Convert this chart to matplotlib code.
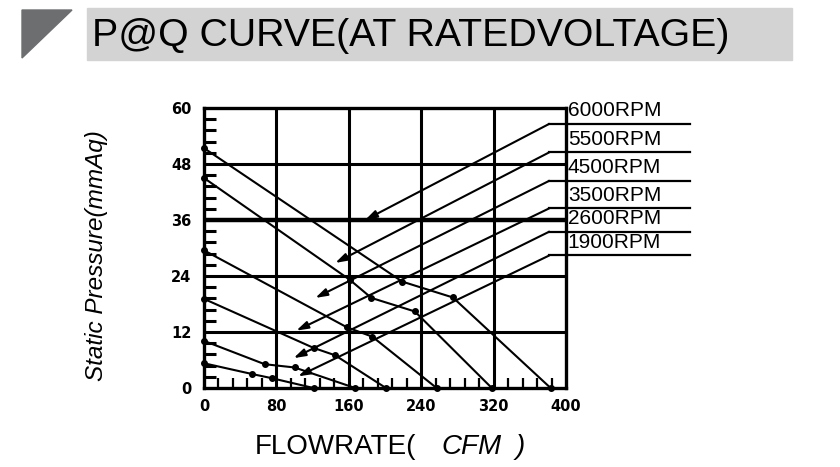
import matplotlib
matplotlib.use("Agg")
import matplotlib.pyplot as plt
from matplotlib.patches import Polygon, Rectangle
from matplotlib.ticker import MultipleLocator

W, H = 840, 467

# P@Q curves: flow (CFM) vs static pressure (mmAq)
rpm_labels = ["6000RPM", "5500RPM", "4500RPM", "3500RPM", "2600RPM", "1900RPM"]

flow_6000 = [0, 219, 275, 383]
pres_6000 = [51.4, 22.8, 19.4, 0]
flow_5500 = [0, 161, 185, 233, 318]
pres_5500 = [45.0, 23.2, 19.3, 16.4, 0]
flow_4500 = [0, 158, 186, 257]
pres_4500 = [29.5, 13.0, 11.0, 0]
flow_3500 = [0, 121, 145, 201]
pres_3500 = [19.1, 8.6, 7.0, 0]
flow_2600 = [0, 67, 100, 167]
pres_2600 = [10.1, 5.1, 4.4, 0]
flow_1900 = [0, 53, 75, 121]
pres_1900 = [5.3, 3.0, 2.1, 0]

# where each label's leader arrow points, and the height of its elbow
arrow_flow = [178, 145, 123, 102, 99, 104]
arrow_pres = [36.0, 26.8, 19.3, 12.3, 6.4, 2.5]
leader_pres = [56.6, 50.5, 44.4, 38.5, 33.5, 28.4]

x_ticks = [0, 80, 160, 240, 320, 400]
y_ticks = [0, 12, 24, 36, 48, 60]


def px(x, y):
    # pixel position (from top-left) -> figure fraction
    return x / W, 1 - y / H


fig = plt.figure(figsize=(W / 100, H / 100), dpi=100)

# title banner
fig.patches.append(Rectangle(px(87, 60), (792 - 87) / W, 52 / H,
                             transform=fig.transFigure, color="#d3d3d3", zorder=0))
fig.patches.append(Polygon([px(22, 10), px(72, 10), px(22, 58)], closed=True,
                           transform=fig.transFigure, color="#6d6e70", zorder=0))
fig.text(*px(92, 36), "P@Q CURVE(AT RATEDVOLTAGE)", ha="left", va="center",
         fontsize=28.3, family="Liberation Sans")

ax = fig.add_axes([204 / W, 1 - 388 / H, (566 - 204) / W, (388 - 108) / H])
ax.set_xlim(0, 400)
ax.set_ylim(0, 60)

for s in ax.spines.values():
    s.set_linewidth(2.4)

for y in y_ticks[1:-1]:
    ax.axhline(y, color="black", lw=3.2 if y == 36 else 2.2, zorder=1)
for x in x_ticks[1:-1]:
    ax.axvline(x, color="black", lw=2.2, zorder=1)

curves = [
    (flow_6000, pres_6000),
    (flow_5500, pres_5500),
    (flow_4500, pres_4500),
    (flow_3500, pres_3500),
    (flow_2600, pres_2600),
    (flow_1900, pres_1900),
]
for flow, pres in curves:
    ax.plot(flow, pres, "-", color="black", lw=1.5, marker="o", ms=4,
            clip_on=False, zorder=3)

# leader lines with arrows and the RPM labels
x_elbow, x_end, x_text = 381.5, 537, 402
for lab, ax_x, ax_y, ly in zip(rpm_labels, arrow_flow, arrow_pres, leader_pres):
    ax.annotate("", xy=(ax_x, ax_y), xytext=(x_elbow, ly),
                arrowprops=dict(arrowstyle="-|>,head_length=0.7,head_width=0.22",
                                color="black", lw=1.5, shrinkA=0, shrinkB=0),
                annotation_clip=False, zorder=4)
    ax.plot([x_elbow, x_end], [ly, ly], color="black", lw=1.6, clip_on=False, zorder=4)
    ax.text(x_text, ly + 0.8, lab, ha="left", va="bottom", fontsize=15,
            family="Liberation Sans")

ax.set_xticks(x_ticks)
ax.set_yticks(y_ticks)
ax.xaxis.set_minor_locator(MultipleLocator(16))
ax.yaxis.set_minor_locator(MultipleLocator(2.4))
ax.tick_params(which="major", length=0, labelsize=10.5)
ax.tick_params(axis="y", which="major", pad=9)
ax.tick_params(axis="x", which="major", pad=8)
ax.tick_params(axis="x", which="minor", direction="in", length=7, width=1.6)
ax.tick_params(axis="y", which="minor", direction="in", length=8.5, width=2.2)
for lbl in ax.get_xticklabels() + ax.get_yticklabels():
    lbl.set_fontweight("bold")

fig.text(*px(96, 256), "Static Pressure(mmAq)", rotation=90, ha="center", va="center",
         fontsize=17.5, style="italic", family="Liberation Sans")
fig.text(*px(416, 447), "FLOWRATE(", ha="right", va="center", fontsize=20,
         family="Liberation Sans")
fig.text(*px(441, 447), "CFM", ha="left", va="center", fontsize=20,
         style="italic", family="Liberation Sans")
fig.text(*px(516, 447), ")", ha="left", va="center", fontsize=20,
         style="italic", family="Liberation Sans")

fig.savefig("out.png", dpi=100)
